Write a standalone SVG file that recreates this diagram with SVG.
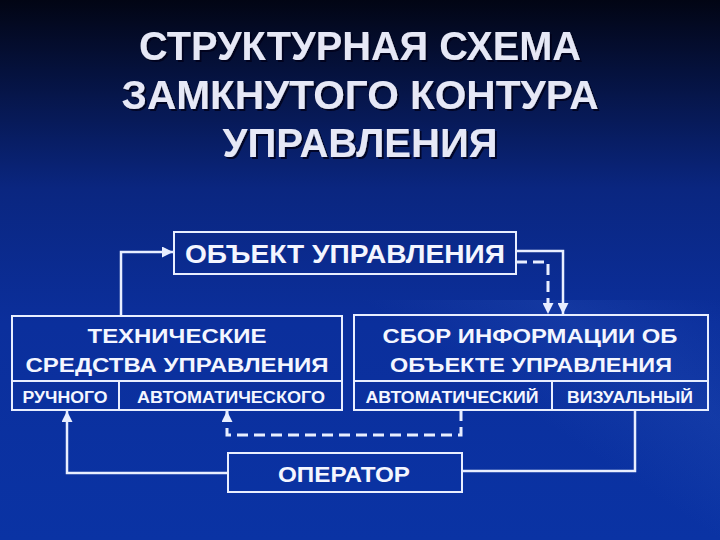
<svg xmlns="http://www.w3.org/2000/svg" width="720" height="540" viewBox="0 0 720 540">
<style>
.t{font-family:"Liberation Sans",Arial,sans-serif;font-weight:bold;fill:#f4f6ff;text-anchor:middle}
.title{font-size:40px;fill:#e6e8f6}
.box{fill:none;stroke:#e8eeff;stroke-width:2}
.ln{fill:none;stroke:#e8eeff;stroke-width:2.5}
.ds{fill:none;stroke:#e8eeff;stroke-width:3;stroke-dasharray:11,6}
</style>
<defs>
<linearGradient id="bg" x1="0" y1="0" x2="0" y2="1">
<stop offset="0" stop-color="#020514"/>
<stop offset="0.35" stop-color="#0a2680"/>
<stop offset="0.6" stop-color="#0b2f9c"/>
<stop offset="1" stop-color="#0a33a4"/>
</linearGradient>
<linearGradient id="streak" x1="0" y1="1" x2="1" y2="0">
<stop offset="0.5" stop-color="#3a66c8" stop-opacity="0"/>
<stop offset="0.75" stop-color="#3a66c8" stop-opacity="0.18"/>
<stop offset="1" stop-color="#3a66c8" stop-opacity="0"/>
</linearGradient>
<filter id="shadow" x="-10%" y="-20%" width="120%" height="150%">
<feDropShadow dx="2" dy="2" stdDeviation="0.6" flood-color="#000018" flood-opacity="0.8"/>
</filter>
<marker id="ar" viewBox="0 0 10 10" refX="10" refY="5" markerWidth="11" markerHeight="11" markerUnits="userSpaceOnUse" orient="auto">
<path d="M0,0 L10,5 L0,10 Z" fill="#e8eeff"/>
</marker>
</defs>
<rect width="720" height="540" fill="url(#bg)"/>
<rect x="360" y="300" width="360" height="240" fill="url(#streak)"/>

<g id="title" filter="url(#shadow)">
<text class="t title" x="360" y="60" textLength="442" lengthAdjust="spacingAndGlyphs">СТРУКТУРНАЯ СХЕМА</text>
<text class="t title" x="360" y="109" textLength="477" lengthAdjust="spacingAndGlyphs">ЗАМКНУТОГО КОНТУРА</text>
<text class="t title" x="360" y="157" textLength="275" lengthAdjust="spacingAndGlyphs">УПРАВЛЕНИЯ</text>
</g>

<g id="object">
<rect class="box" x="174" y="232" width="342" height="42"/>
<text class="t" x="345" y="263" font-size="25" textLength="320" lengthAdjust="spacingAndGlyphs">ОБЪЕКТ УПРАВЛЕНИЯ</text>
</g>

<g id="tech">
<rect class="box" x="12" y="316" width="330" height="94"/>
<line class="box" x1="12" y1="381" x2="342" y2="381"/>
<line class="box" x1="119" y1="381" x2="119" y2="410"/>
<text class="t" x="177" y="343" font-size="21" textLength="179" lengthAdjust="spacingAndGlyphs">ТЕХНИЧЕСКИЕ</text>
<text class="t" x="177" y="372" font-size="21" textLength="303" lengthAdjust="spacingAndGlyphs">СРЕДСТВА УПРАВЛЕНИЯ</text>
<text class="t" x="65" y="403" font-size="16" textLength="85" lengthAdjust="spacingAndGlyphs">РУЧНОГО</text>
<text class="t" x="231" y="403" font-size="16" textLength="188" lengthAdjust="spacingAndGlyphs">АВТОМАТИЧЕСКОГО</text>
</g>

<g id="info">
<rect class="box" x="354" y="315" width="354" height="95"/>
<line class="box" x1="354" y1="381" x2="708" y2="381"/>
<line class="box" x1="552" y1="381" x2="552" y2="410"/>
<text class="t" x="530" y="343" font-size="21" textLength="295" lengthAdjust="spacingAndGlyphs">СБОР ИНФОРМАЦИИ ОБ</text>
<text class="t" x="531" y="372" font-size="21" textLength="282" lengthAdjust="spacingAndGlyphs">ОБЪЕКТЕ УПРАВЛЕНИЯ</text>
<text class="t" x="452" y="403" font-size="16" textLength="173" lengthAdjust="spacingAndGlyphs">АВТОМАТИЧЕСКИЙ</text>
<text class="t" x="630" y="403" font-size="16" textLength="126" lengthAdjust="spacingAndGlyphs">ВИЗУАЛЬНЫЙ</text>
</g>

<g id="operator">
<rect class="box" x="228" y="453" width="234" height="39"/>
<text class="t" x="344" y="482" font-size="22" textLength="132" lengthAdjust="spacingAndGlyphs">ОПЕРАТОР</text>
</g>

<g id="connectors">
<polyline class="ln" points="121,316 121,252 173,252" marker-end="url(#ar)"/>
<polyline class="ln" points="516,251 563,251 563,314" marker-end="url(#ar)"/>
<polyline class="ds" points="516,262 548,262 548,314" marker-end="url(#ar)"/>
<polyline class="ln" points="228,473 67,473 67,411" marker-end="url(#ar)"/>
<polyline class="ln" points="462,471 635,471 635,410"/>
<polyline class="ds" points="461,410 461,435 227,435 227,411" marker-end="url(#ar)"/>
</g>
</svg>
